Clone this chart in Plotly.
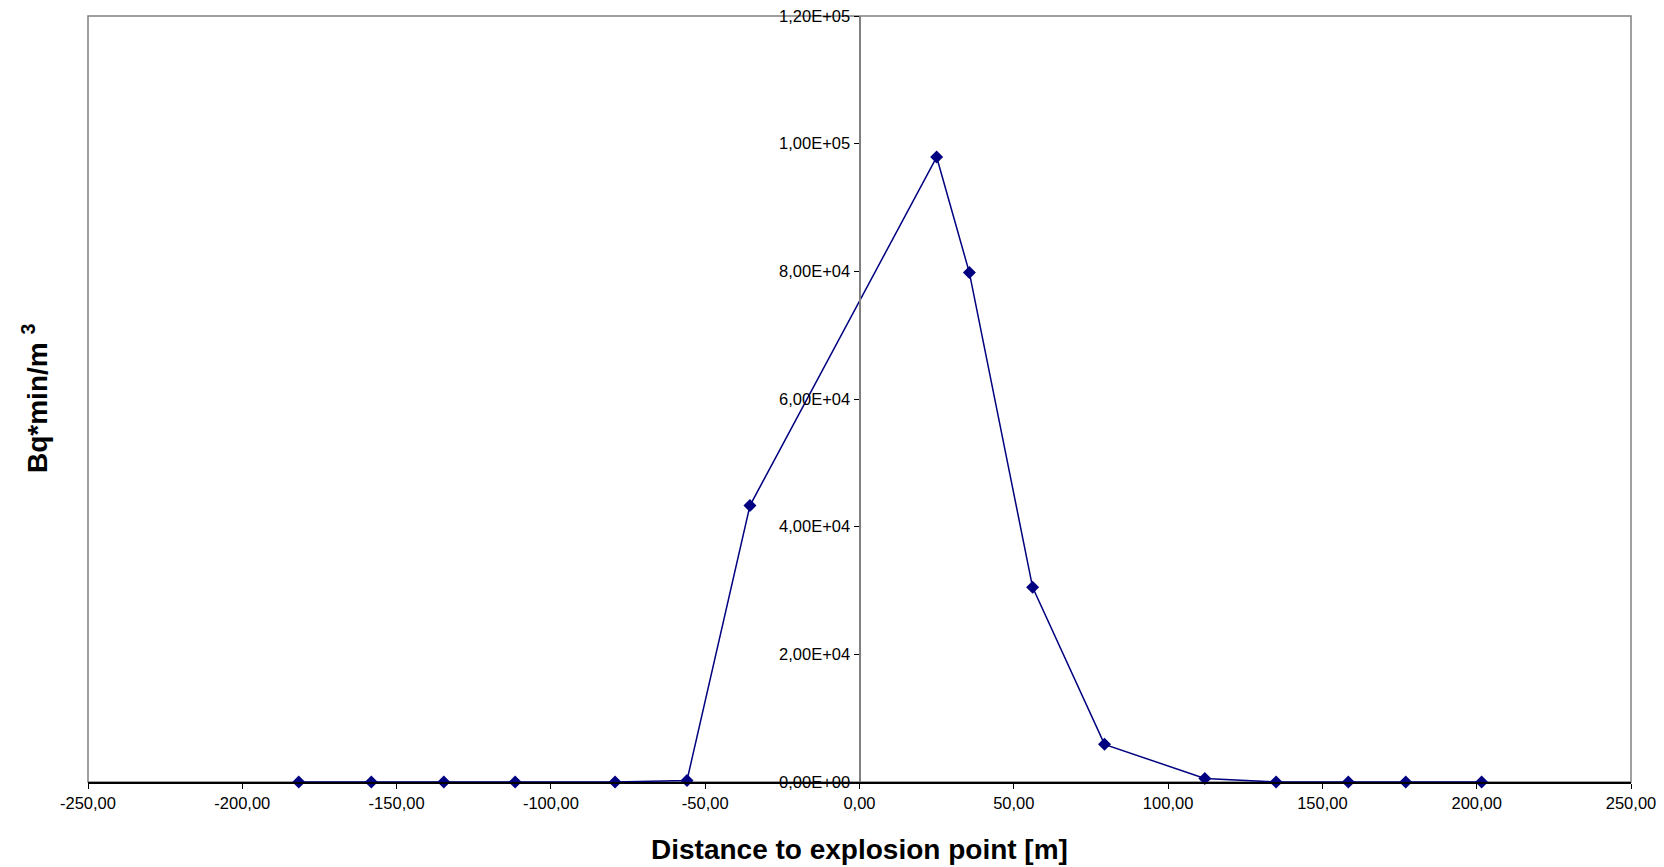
import plotly.graph_objects as go

# Measured dose along the transect
distance_m = [-181.7, -158.2, -134.7, -111.6, -79.2, -55.9, -35.5, 25.0, 35.6,
              56.1, 79.4, 111.9, 135.0, 158.4, 177.0, 201.6]
dose_bq_min_m3 = [0, 0, 0, 0, 0, 250, 43300, 97900, 79800,
                  30500, 5900, 550, 0, 0, 0, 0]

x_tick_vals = [-250, -200, -150, -100, -50, 0, 50, 100, 150, 200, 250]
x_tick_text = ["-250,00", "-200,00", "-150,00", "-100,00", "-50,00", "0,00",
               "50,00", "100,00", "150,00", "200,00", "250,00"]
y_tick_vals = [0, 20000, 40000, 60000, 80000, 100000, 120000]
y_tick_text = ["0,00E+00", "2,00E+04", "4,00E+04", "6,00E+04", "8,00E+04",
               "1,00E+05", "1,20E+05"]

FONT = "Liberation Sans, Arial, sans-serif"
NAVY = "#000080"

fig = go.Figure()
fig.add_trace(go.Scatter(
    x=distance_m, y=dose_bq_min_m3, mode="lines+markers",
    line=dict(color=NAVY, width=1.5),
    marker=dict(symbol="diamond", size=10, color=NAVY),
    showlegend=False, cliponaxis=False,
))

fig.update_layout(
    width=1664, height=867,
    margin=dict(l=88, r=33, t=16, b=85, autoexpand=False),
    paper_bgcolor="white", plot_bgcolor="white",
    font=dict(family=FONT, size=16.5, color="black"),
    xaxis=dict(
        range=[-250, 250], tickvals=x_tick_vals, ticktext=x_tick_text,
        showgrid=False, zeroline=False, showline=True, linecolor="black",
        linewidth=1.5, ticks="outside", ticklen=5, tickcolor="black",
        tickfont=dict(size=16.5), automargin=False,
    ),
    yaxis=dict(
        range=[0, 120000], tickvals=y_tick_vals, ticktext=y_tick_text,
        showgrid=False, zeroline=False, showline=True, linecolor="#808080",
        linewidth=2, ticks="outside", ticklen=5, tickcolor="black",
        anchor="free", position=0.5, tickfont=dict(size=16.5), automargin=False,
    ),
    shapes=[dict(type="rect", xref="paper", yref="paper", x0=0, y0=0, x1=1, y1=1,
                 line=dict(color="#808080", width=1.5), layer="below")],
    annotations=[
        dict(text="<b>Distance to explosion point [m]</b>", xref="paper", yref="paper",
             x=0.5, y=0, yshift=-67, showarrow=False, font=dict(size=28),
             xanchor="center", yanchor="middle"),
        dict(text="<b>Bq*min/m <sup>3</sup></b>", xref="paper", yref="paper",
             x=0, xshift=-53, y=0.5, showarrow=False, font=dict(size=28),
             textangle=-90, xanchor="center", yanchor="middle"),
    ],
)

fig.write_html("out.html")
